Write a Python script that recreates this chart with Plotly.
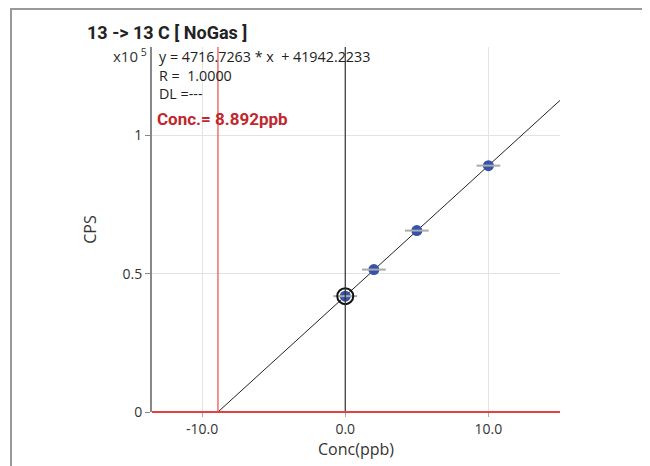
import plotly.graph_objects as go

# data
conc = [0, 2, 5, 10]
cps = [41900, 51500, 65600, 89100]
slope = 4716.7263
intercept = 41942.2233
conc_result = 8.892
x_range = [-13.5, 15.0]
y_range = [0, 132000]
x_ticks = [-10, 0, 10]
x_tick_labels = ["-10.0", "0.0", "10.0"]
y_ticks = [0, 50000, 100000]
y_tick_labels = ["0", "0.5", "1"]

x0 = -intercept / slope
fit_x = [x0, x_range[1]]
fit_y = [slope * v + intercept for v in fit_x]

fig = go.Figure()
fig.add_trace(go.Scatter(x=fit_x, y=fit_y, mode="lines",
                         line=dict(color="#222222", width=1), hoverinfo="skip"))
fig.add_trace(go.Scatter(x=conc, y=cps, mode="markers",
                         marker=dict(color="#3553a8", size=11, line=dict(width=0))))
fig.add_trace(go.Scatter(x=conc, y=cps, mode="markers",
                         marker=dict(symbol="line-ew", size=17, color="#aaaaaa",
                                     line=dict(color="#aaaaaa", width=2))))
fig.add_trace(go.Scatter(x=[conc[0]], y=[cps[0]], mode="markers",
                         marker=dict(symbol="circle-open", size=16, color="#111111",
                                     line=dict(color="#111111", width=2))))

shapes = [
    dict(type="line", xref="x", yref="paper", x0=0, x1=0, y0=0, y1=1,
         line=dict(color="#333333", width=1.2)),
    dict(type="line", xref="x", yref="paper", x0=x0, x1=x0, y0=0, y1=1,
         line=dict(color="#ee4a44", width=1.2)),
    dict(type="line", xref="paper", yref="paper", x0=0, x1=1, y0=0, y1=0,
         line=dict(color="#e8403a", width=2)),
    dict(type="rect", xref="paper", yref="paper", x0=-0.3456, x1=1.2108,
         y0=-0.3, y1=1.104, line=dict(color="#999999", width=2), layer="below"),
]

annotations = [
    dict(text="<b>13 -> 13 C [ NoGas ]</b>", xref="paper", yref="paper",
         x=-0.164, y=1.041, xanchor="left", yanchor="middle", showarrow=False,
         font=dict(family="Roboto", size=18, color="#222222")),
    dict(text="x10<sup> 5</sup>", xref="paper", yref="paper",
         x=-0.008, y=0.978, xanchor="right", yanchor="middle", showarrow=False,
         font=dict(size=15, color="#333333")),
    dict(text="y = 4716.7263 * x  + 41942.2233<br>R =  1.0000<br>DL =---",
         xref="paper", yref="paper", x=0.012, y=1.006, xanchor="left", yanchor="top",
         align="left", showarrow=False, font=dict(size=14.3, color="#222222")),
    dict(text="<b>Conc.= %.3fppb</b>" % conc_result, xref="paper", yref="paper",
         x=0.008, y=0.803, xanchor="left", yanchor="middle", showarrow=False,
         font=dict(family="Roboto", size=17, color="#c1272d")),
]

fig.update_layout(
    width=642, height=458,
    margin=dict(l=144, r=90, t=39, b=54),
    paper_bgcolor="white", plot_bgcolor="white",
    showlegend=False,
    font=dict(family="Open Sans", size=13, color="#333333"),
    shapes=shapes, annotations=annotations,
    xaxis=dict(range=x_range, tickvals=x_ticks, ticktext=x_tick_labels,
               showgrid=True, gridcolor="#e3e3e3", gridwidth=1, zeroline=False,
               showline=False, ticks="outside", ticklen=4, tickcolor="#aaaaaa",
               title=dict(text="Conc(ppb)", standoff=4),
               tickfont=dict(size=14)),
    yaxis=dict(range=y_range, tickvals=y_ticks, ticktext=y_tick_labels,
               showgrid=True, gridcolor="#e3e3e3", gridwidth=1, zeroline=False,
               showline=True, linecolor="#888888", linewidth=2,
               ticks="outside", ticklen=5, tickcolor="#888888",
               title=dict(text="CPS", standoff=22), tickfont=dict(size=14)),
)

fig.write_html("out.html")
